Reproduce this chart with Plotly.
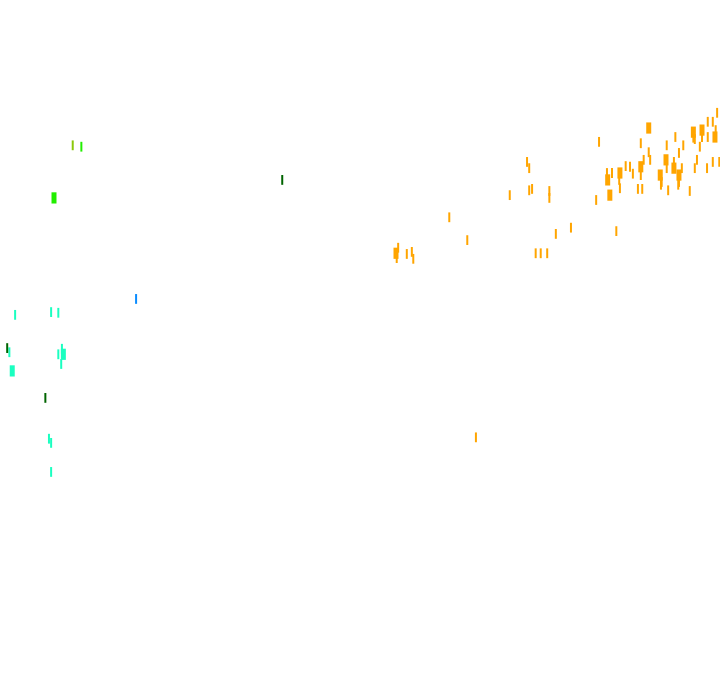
import plotly.graph_objects as go

# Orange group
orange_x = [83.2, 90.1, 89.0, 90.1, 90.3, 89.4, 89.0, 87.5, 86.9, 86.1, 85.0, 84.3, 84.4, 86.0, 86.1,
            84.7, 87.9, 89.0, 88.6, 89.2, 82.8, 91.7, 91.9, 91.8, 92.5, 92.6, 92.8, 93.6, 93.6, 94.3,
            94.3, 94.2, 94.7, 94.3, 94.9, 93.8, 92.6, 95.8, 96.5, 96.8, 96.3, 96.3, 96.5, 97.2, 97.5,
            97.5, 98.3, 98.3, 99.0, 99.3, 99.4, 99.6, 98.2, 99.0, 99.9, 73.2, 73.5, 70.8, 73.5, 73.9,
            76.3, 76.3, 62.4, 64.9, 77.2, 79.3, 74.4, 75.1, 76.0, 85.6, 66.1, 55.0, 55.3, 55.1, 56.5,
            57.2, 57.4]
orange_y = [79.5, 81.5, 79.3, 78.0, 76.9, 76.9, 75.9, 75.9, 76.0, 75.0, 75.0, 75.0, 74.0, 74.0, 72.8,
            71.8, 74.9, 74.7, 72.7, 72.7, 71.1, 74.7, 73.7, 73.3, 76.9, 75.7, 72.5, 75.7, 76.6, 74.7,
            73.7, 73.3, 75.7, 77.9, 79.0, 80.2, 79.0, 72.4, 75.7, 76.9, 80.9, 80.1, 79.9, 78.8, 81.2,
            80.2, 80.2, 82.4, 82.4, 80.2, 81.2, 83.7, 75.7, 76.6, 76.6, 76.6, 75.7, 71.8, 72.5, 72.7,
            72.4, 71.4, 68.6, 65.3, 66.2, 67.1, 63.4, 63.4, 63.4, 66.6, 36.8, 63.4, 64.2, 62.7, 63.3,
            63.6, 62.6]
orange_big = [0, 1, 0, 0, 0, 0, 1, 0, 0, 1, 0, 0, 1, 0, 0,
              1, 0, 0, 0, 0, 0, 1, 0, 0, 1, 0, 0, 1, 0, 1,
              0, 0, 0, 0, 0, 0, 0, 0, 0, 0, 1, 0, 0, 0, 1,
              0, 0, 0, 0, 1, 0, 0, 0, 0, 0, 0, 0, 0, 0, 0,
              0, 0, 0, 0, 0, 0, 0, 0, 0, 0, 0, 1, 0, 0, 0,
              0, 0]

teal_x = [2.1, 7.1, 8.1, 1.3, 8.6, 8.1, 8.8, 8.5, 1.7, 6.8, 7.1, 7.1]
teal_y = [54.5, 54.9, 54.8, 49.1, 49.6, 48.8, 48.8, 47.4, 46.4, 36.6, 36.0, 31.8]
teal_big = [0, 0, 0, 0, 0, 0, 1, 0, 1, 0, 0, 0]

darkgreen_x = [1.0, 6.3, 39.2]
darkgreen_y = [49.7, 42.5, 74.0]
darkgreen_big = [0, 0, 0]

blue_x = [18.9]
blue_y = [56.8]
blue_big = [0]

olive_x = [10.1]
olive_y = [79.0]
olive_big = [0]

lime_x = [11.3, 7.5]
lime_y = [78.8, 71.4]
lime_big = [0, 1]

groups = [
    ("orange", orange_x, orange_y, orange_big, "#FFA500"),
    ("teal", teal_x, teal_y, teal_big, "#1AFFC0"),
    ("darkgreen", darkgreen_x, darkgreen_y, darkgreen_big, "#006400"),
    ("blue", blue_x, blue_y, blue_big, "#0A8CFF"),
    ("olive", olive_x, olive_y, olive_big, "#8CC80A"),
    ("lime", lime_x, lime_y, lime_big, "#22EE00"),
]

fig = go.Figure()
for name, xs, ys, big, color in groups:
    fig.add_trace(go.Scatter(
        x=xs, y=ys, mode="markers", name=name, showlegend=False,
        cliponaxis=False,
        marker=dict(
            symbol="line-ns",
            size=[8 if b else 7 for b in big],
            color=color,
            opacity=1,
            line=dict(color=color, width=[5 if b else 2 for b in big]),
        ),
        hoverinfo="skip",
    ))

fig.update_layout(
    width=720, height=692,
    margin=dict(l=0, r=0, t=0, b=0),
    paper_bgcolor="white", plot_bgcolor="white",
    xaxis=dict(range=[0.0, 100.0], visible=False),
    yaxis=dict(range=[0.0, 100.0], visible=False),
)

fig.write_html("out.html",
               config={"displayModeBar": False},
               post_script="document.body.style.margin='0';document.body.style.overflow='hidden';")
